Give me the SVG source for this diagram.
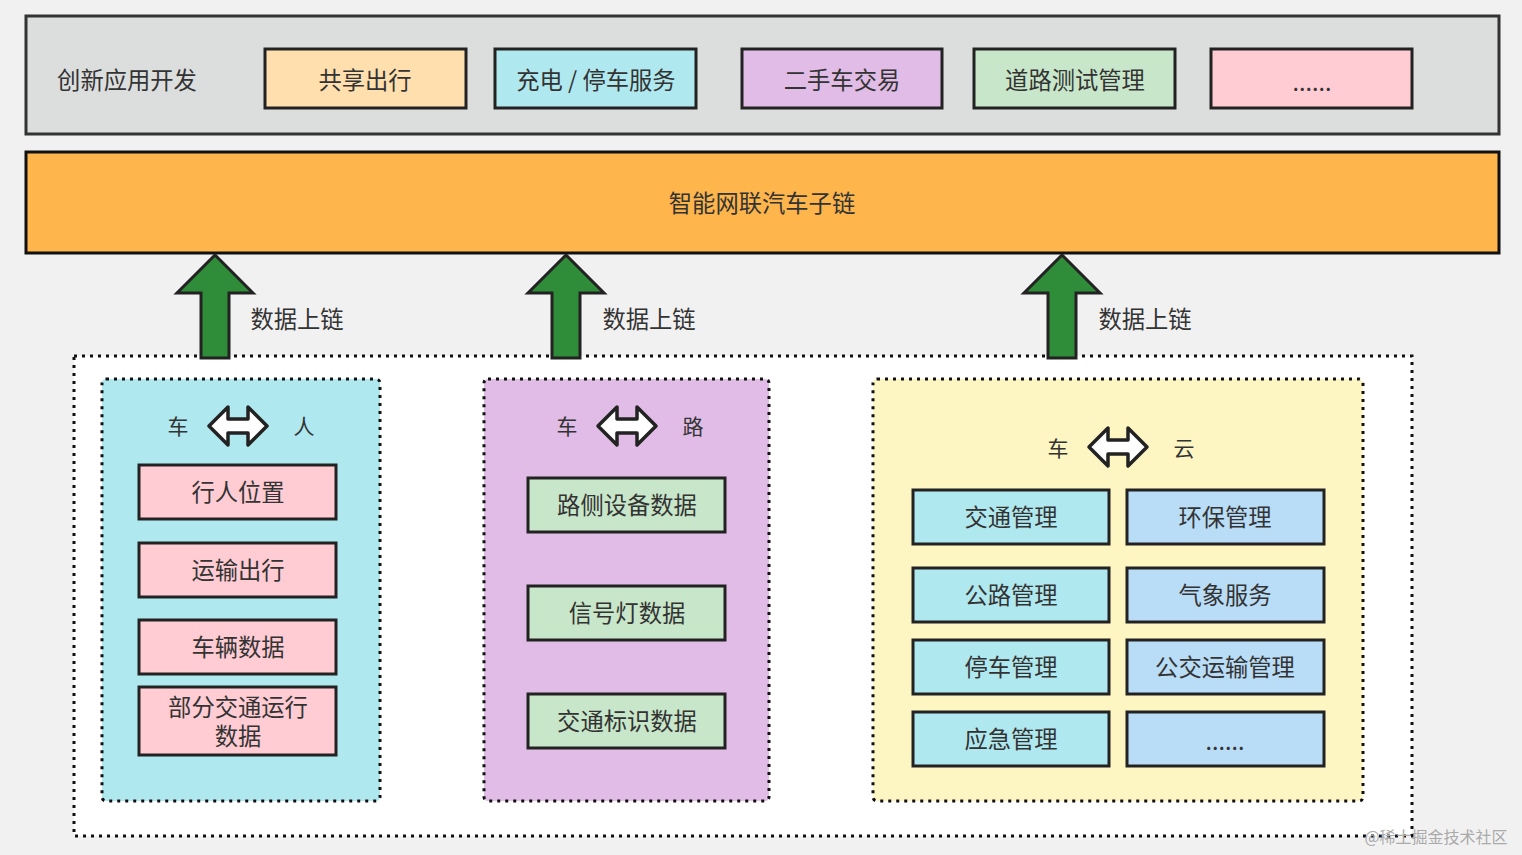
<svg xmlns="http://www.w3.org/2000/svg" width="1522" height="855" viewBox="0 0 1522 855">
<style>
text{font-family:"Noto Sans CJK SC","Noto Sans",sans-serif;fill:#333;text-anchor:middle;dominant-baseline:central}
.t22{font-size:23.3px}
.t21{font-size:21px}
.box{stroke:#222;stroke-width:3}
.dot{stroke:#111;stroke-width:3;stroke-dasharray:3 5}
.up{fill:#2f8d3a;stroke:#222;stroke-width:3;stroke-linejoin:miter}
.dbl{fill:#fff;stroke:#222;stroke-width:3.5;stroke-linejoin:round}
</style>
<defs>
<path id="dbl" d="M0 19 L19 0 L19 12 L39 12 L39 0 L58 19 L39 38 L39 26 L19 26 L19 38 Z"/>
</defs>
<rect x="0" y="0" width="1522" height="855" fill="#f1f1f1"/>

<g id="app-layer">
<rect x="26" y="16" width="1473" height="118" fill="#dcdddd" stroke="#333" stroke-width="3"/>
<text class="t22" x="127" y="79">创新应用开发</text>
</g>
<g id="app1"><rect class="box" x="265" y="49" width="201" height="59" fill="#ffdfae"/><text class="t22" x="365" y="79">共享出行</text></g>
<g id="app2"><rect class="box" x="495" y="49" width="201" height="59" fill="#b0e8ef"/><text class="t22" x="596" y="79">充电 / 停车服务</text></g>
<g id="app3"><rect class="box" x="742" y="49" width="200" height="59" fill="#e0bce6"/><text class="t22" x="842" y="79">二手车交易</text></g>
<g id="app4"><rect class="box" x="974" y="49" width="201" height="59" fill="#c8e6c9"/><text class="t22" x="1075" y="79">道路测试管理</text></g>
<g id="app5"><rect class="box" x="1211" y="49" width="201" height="59" fill="#ffccd4"/><text class="t22" x="1312" y="81">......</text></g>

<g id="chain"><rect x="26" y="152" width="1473" height="101" fill="#fdb54c" stroke="#111" stroke-width="3"/><text class="t22" x="762" y="202">智能网联汽车子链</text></g>

<g id="outer"><rect class="dot" x="74" y="356" width="1338" height="480" fill="#fff"/></g>

<g id="connectors">
<polygon class="up" points="215,255 253,293 229,293 229,358 201,358 201,293 177,293"/>
<text class="t22" x="297" y="318">数据上链</text>
<polygon class="up" points="566,255 604,293 580,293 580,358 552,358 552,293 528,293"/>
<text class="t22" x="649" y="318">数据上链</text>
<polygon class="up" points="1062,255 1100,293 1076,293 1076,358 1048,358 1048,293 1024,293"/>
<text class="t22" x="1145" y="318">数据上链</text>
</g>

<g id="panel-person">
<rect class="dot" x="102" y="379" width="278" height="422" rx="4" fill="#b0e8ef"/>
<text class="t21" x="178" y="425">车</text>
<use href="#dbl" class="dbl" x="209" y="407"/>
<text class="t21" x="304" y="425">人</text>
</g>
<g id="p1"><rect class="box" x="139" y="465" width="197" height="54" fill="#ffccd4"/><text class="t22" x="238" y="491">行人位置</text></g>
<g id="p2"><rect class="box" x="139" y="543" width="197" height="54" fill="#ffccd4"/><text class="t22" x="238" y="569">运输出行</text></g>
<g id="p3"><rect class="box" x="139" y="620" width="197" height="54" fill="#ffccd4"/><text class="t22" x="238" y="646">车辆数据</text></g>
<g id="p4"><rect class="box" x="139" y="687" width="197" height="68" fill="#ffccd4"/><text class="t22" x="238" y="706">部分交通运行</text><text class="t22" x="238" y="735">数据</text></g>

<g id="panel-road">
<rect class="dot" x="484" y="379" width="285" height="422" rx="4" fill="#e0bce6"/>
<text class="t21" x="567" y="425">车</text>
<use href="#dbl" class="dbl" x="598" y="407"/>
<text class="t21" x="693" y="425">路</text>
</g>
<g id="r1"><rect class="box" x="528" y="478" width="197" height="54" fill="#c8e6c9"/><text class="t22" x="627" y="504">路侧设备数据</text></g>
<g id="r2"><rect class="box" x="528" y="586" width="197" height="54" fill="#c8e6c9"/><text class="t22" x="627" y="612">信号灯数据</text></g>
<g id="r3"><rect class="box" x="528" y="694" width="197" height="54" fill="#c8e6c9"/><text class="t22" x="627" y="720">交通标识数据</text></g>

<g id="panel-cloud">
<rect class="dot" x="873" y="379" width="490" height="422" rx="4" fill="#fdf6c3"/>
<text class="t21" x="1058" y="447">车</text>
<use href="#dbl" class="dbl" x="1089" y="428"/>
<text class="t21" x="1184" y="447">云</text>
</g>
<g id="c1"><rect class="box" x="913" y="490" width="196" height="54" fill="#b0e8ef"/><text class="t22" x="1011" y="516">交通管理</text></g>
<g id="c2"><rect class="box" x="1127" y="490" width="197" height="54" fill="#b9dcf7"/><text class="t22" x="1225" y="516">环保管理</text></g>
<g id="c3"><rect class="box" x="913" y="568" width="196" height="54" fill="#b0e8ef"/><text class="t22" x="1011" y="594">公路管理</text></g>
<g id="c4"><rect class="box" x="1127" y="568" width="197" height="54" fill="#b9dcf7" stroke="#111"/><text class="t22" x="1225" y="594">气象服务</text></g>
<g id="c5"><rect class="box" x="913" y="640" width="196" height="54" fill="#b0e8ef" stroke="#111"/><text class="t22" x="1011" y="666">停车管理</text></g>
<g id="c6"><rect class="box" x="1127" y="640" width="197" height="54" fill="#b9dcf7"/><text class="t22" x="1225" y="666">公交运输管理</text></g>
<g id="c7"><rect class="box" x="913" y="712" width="196" height="54" fill="#b0e8ef" stroke="#111"/><text class="t22" x="1011" y="738">应急管理</text></g>
<g id="c8"><rect class="box" x="1127" y="712" width="197" height="54" fill="#b9dcf7"/><text class="t22" x="1225" y="740">......</text></g>

<g id="watermark"><text x="1436" y="836" style="font-size:16px;fill:#aaa">@稀土掘金技术社区</text></g>
</svg>
